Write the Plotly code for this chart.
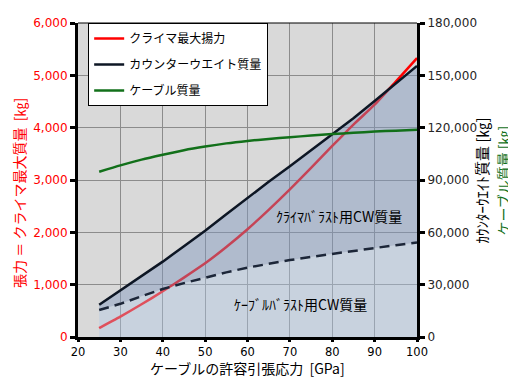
import plotly.graph_objects as go

# ---- data ----
stress_gpa = [25, 30, 35, 40, 45, 50, 55, 60, 65, 70, 75, 80, 85, 90, 95, 100]
climber_max_lift_kg = [170, 390, 625, 873, 1135, 1408, 1720, 2060, 2430, 2820, 3230, 3650, 4060, 4440, 4880, 5330]
counterweight_kg = [18450, 26610, 34800, 43200, 52050, 60900, 70350, 79800, 88950, 97950, 106950, 116100, 125400, 135300, 145500, 155400]
cable_mass_kg = [94710, 98400, 101700, 104490, 107100, 109200, 111000, 112410, 113550, 114510, 115500, 116340, 117090, 117750, 118290, 118800]
cable_ballast_cw_kg = [15450, 19020, 23400, 27510, 30900, 34140, 37050, 39780, 42000, 44100, 45900, 47700, 49350, 51000, 52650, 54150]

left_ticks = [0, 1000, 2000, 3000, 4000, 5000, 6000]
right_ticks = [0, 30000, 60000, 90000, 120000, 150000, 180000]

JP = "Noto Sans CJK JP"
NUM = "DejaVu Sans"

fig = go.Figure()

fig.add_trace(go.Scatter(x=stress_gpa, y=climber_max_lift_kg, mode="lines",
                         name="クライマ最大揚力", legendgroup="a",
                         line=dict(color="#ff0000", width=2.5, shape="spline", smoothing=0.6),
                         yaxis="y"))

# fills (drawn over the red line, semi-transparent)
fig.add_trace(go.Scatter(x=stress_gpa, y=cable_ballast_cw_kg, mode="lines",
                         line=dict(width=0), fill="tozeroy",
                         fillcolor="rgba(175,200,230,0.4)", showlegend=False,
                         hoverinfo="skip", yaxis="y2"))
fig.add_trace(go.Scatter(x=stress_gpa, y=counterweight_kg, mode="lines",
                         line=dict(width=0), fill="tonexty",
                         fillcolor="rgba(127,151,191,0.45)", showlegend=False,
                         hoverinfo="skip", yaxis="y2"))

fig.add_trace(go.Scatter(x=stress_gpa, y=counterweight_kg, mode="lines",
                         name="カウンターウエイト質量", legendgroup="b",
                         line=dict(color="#0d1624", width=2.5), yaxis="y2"))
fig.add_trace(go.Scatter(x=stress_gpa, y=cable_mass_kg, mode="lines",
                         name="ケーブル質量", legendgroup="c",
                         line=dict(color="#12701a", width=2.5, shape="spline", smoothing=0.6),
                         yaxis="y2"))
fig.add_trace(go.Scatter(x=stress_gpa, y=cable_ballast_cw_kg, mode="lines",
                         showlegend=False,
                         line=dict(color="#1c2638", width=2.5, dash="10px,6px"), yaxis="y2"))

# page body has an 8px margin: shrink the figure so the plot lands where the reference has it
fig.update_layout(
    width=508, height=373,
    margin=dict(l=70, r=99, t=8, b=44),
    paper_bgcolor="white",
    plot_bgcolor="#d9d9d9",
    showlegend=True,
    legend=dict(x=0.03, y=1.0, xanchor="left", yanchor="top",
                bgcolor="white", bordercolor="black", borderwidth=1,
                font=dict(family=JP, size=12, color="black"),
                tracegroupgap=7, traceorder="grouped",
                entrywidth=140, entrywidthmode="pixels"),
    xaxis=dict(range=[20, 100], dtick=10, tick0=20,
               showgrid=True, gridcolor="#8c8c8c", gridwidth=1,
               showline=True, linecolor="black", linewidth=3,
               ticks="outside", ticklen=2, tickwidth=2.5, tickcolor="black",
               tickfont=dict(family=NUM, size=11.5, color="black"),
               zeroline=False),
    yaxis=dict(range=[0, 6000], tickvals=left_ticks, tickformat=",",
               showgrid=True, gridcolor="#8c8c8c", gridwidth=1,
               showline=True, linecolor="black", linewidth=3,
               ticks="outside", ticklen=5, tickwidth=2.5, tickcolor="black",
               tickfont=dict(family=NUM, size=12, color="#ff0000"),
               zeroline=False),
    yaxis2=dict(range=[0, 180000], tickvals=right_ticks, tickformat=",",
                overlaying="y", side="right", showgrid=False,
                showline=True, linecolor="black", linewidth=3,
                ticks="outside", ticklen=5, tickwidth=2.5, tickcolor="black",
                tickfont=dict(family=NUM, size=12, color="#262626"),
                zeroline=False),
)

# thin frame on top
fig.add_shape(type="line", xref="paper", yref="paper", x0=0, x1=1, y0=1, y1=1,
              line=dict(color="black", width=1))

annos = [
    dict(text="ケーブルの許容引張応力  [GPa]", x=0.5, y=-0.137, xref="paper", yref="paper",
         xanchor="center", yanchor="bottom", showarrow=False,
         font=dict(family=JP, size=14, color="black")),
    dict(text="張力 ＝ クライマ最大質量  [㎏]", x=-0.176, y=0.46, xref="paper", yref="paper",
         xanchor="center", yanchor="middle", textangle=-90, showarrow=False,
         font=dict(family=JP, size=14, color="#ff0000")),
    dict(text="ｶｳﾝﾀｰｳｴｲﾄ質量 [㎏]", x=1.19, y=0.5, xref="paper", yref="paper",
         xanchor="center", yanchor="middle", textangle=-90, showarrow=False,
         font=dict(family=JP, size=15, color="black")),
    dict(text="ケーブル質量 [㎏]", x=1.255, y=0.5, xref="paper", yref="paper",
         xanchor="center", yanchor="middle", textangle=-90, showarrow=False,
         font=dict(family=JP, size=14, color="#12701a")),
    dict(text="ｸﾗｲﾏﾊﾞﾗｽﾄ用CW質量", x=81.6, y=2320, xref="x", yref="y",
         xanchor="center", yanchor="middle", showarrow=False,
         font=dict(family=JP, size=14, color="black")),
    dict(text="ｹｰﾌﾞﾙﾊﾞﾗｽﾄ用CW質量", x=72.4, y=640, xref="x", yref="y",
         xanchor="center", yanchor="middle", showarrow=False,
         font=dict(family=JP, size=14, color="black")),
]
fig.update_layout(annotations=annos)

fig.write_html("out.html")
